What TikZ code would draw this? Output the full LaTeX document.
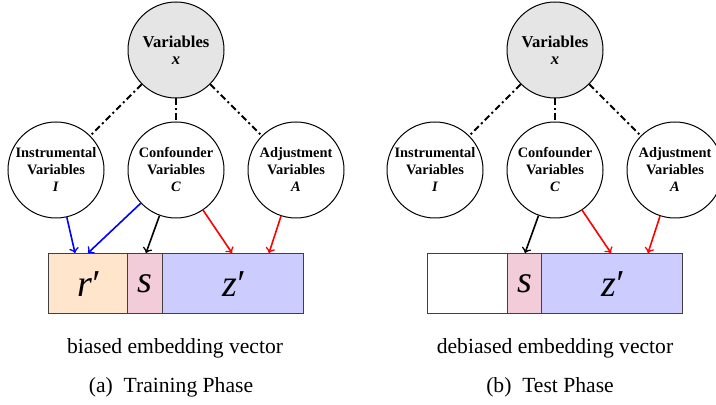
\documentclass[tikz,border=0pt]{standalone}
\usepackage{fontspec}
\setmainfont{Liberation Serif}
\begin{document}
\begin{tikzpicture}[x=0.5pt,y=-0.5pt,
 var/.style={circle,draw,line width=0.5pt,minimum size=48pt,inner sep=0pt,align=center,
   font=\fontsize{7.2}{8.5}\selectfont\bfseries},
 topvar/.style={var,fill=gray!20,font=\fontsize{8.3}{8.5}\selectfont\bfseries},
 dd/.style={line width=1pt,dash pattern=on 3.2pt off 1.6pt on 1pt off 1.6pt},
 arr/.style={->,line width=0.8pt},
 seg/.style={draw=black!75,line width=0.6pt,inner sep=0pt,minimum height=30pt,anchor=north west,
   font=\fontsize{19}{19}\selectfont\itshape},
 captext/.style={font=\fontsize{10.8}{12}\selectfont}]
\useasboundingbox (0,0) rectangle (716,405);

% ---------- panel (a) ----------
\node[topvar] (ax) at (176,50) {Variables\\\textit{x}};
\node[var] (ai) at (56,170) {Instrumental\\Variables\\\textit{I}};
\node[var] (ac) at (176,170) {Confounder\\Variables\\\textit{C}};
\node[var] (aa) at (296,170) {Adjustment\\Variables\\\textit{A}};
\draw[dd] (ax) -- (ai);
\draw[dd] (ax) -- (ac);
\draw[dd] (ax) -- (aa);

\node[seg,fill=orange!20,minimum width=39.5pt] (ar) at (48,253) {r\kern-1.2pt′};
\node[seg,fill=purple!20,minimum width=17.5pt] (as) at (127,253) {s};
\node[seg,fill=blue!20,minimum width=70.5pt] (az) at (162,253) {z\kern-1.2pt′};

\coordinate (a1) at (75,253);
\coordinate (a2) at (88,253);
\coordinate (a3) at (146,253);
\coordinate (a4) at (232,253);
\coordinate (a5) at (269,253);
\draw[arr,blue] (ai) -- (a1);
\draw[arr,blue] (ac) -- (a2);
\draw[arr,black] (ac) -- (a3);
\draw[arr,red] (ac) -- (a4);
\draw[arr,red] (aa) -- (a5);

\node[captext] (acap) at (175,348) {biased embedding vector};
\node[captext] (asub) at (171,387) {(a)\enspace Training Phase};

% ---------- panel (b) ----------
\node[topvar] (bx) at (555,50) {Variables\\\textit{x}};
\node[var] (bi) at (435,170) {Instrumental\\Variables\\\textit{I}};
\node[var] (bc) at (555,170) {Confounder\\Variables\\\textit{C}};
\node[var] (ba) at (675,170) {Adjustment\\Variables\\\textit{A}};
\draw[dd] (bx) -- (bi);
\draw[dd] (bx) -- (bc);
\draw[dd] (bx) -- (ba);

\node[seg,fill=white,minimum width=40pt] (br) at (427,253) {};
\node[seg,fill=purple!20,minimum width=17pt] (bs) at (507,253) {s};
\node[seg,fill=blue!20,minimum width=70.5pt] (bz) at (541,253) {z\kern-1.2pt′};

\coordinate (b3) at (525,253);
\coordinate (b4) at (611,253);
\coordinate (b5) at (648,253);
\draw[arr,black] (bc) -- (b3);
\draw[arr,red] (bc) -- (b4);
\draw[arr,red] (ba) -- (b5);

\node[captext] (bcap) at (555,348) {debiased embedding vector};
\node[captext] (bsub) at (550,387) {(b)\enspace Test Phase};
\end{tikzpicture}
\end{document}
